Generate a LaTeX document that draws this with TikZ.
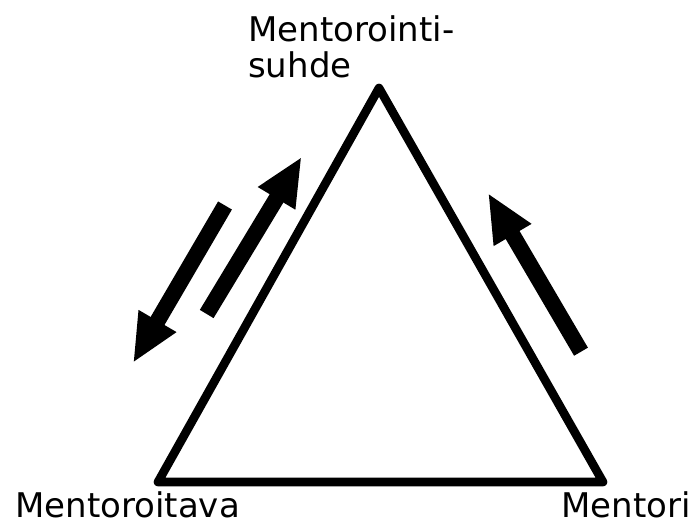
\documentclass[tikz,border=0pt]{standalone}
\usepackage{fontspec}
\setmainfont{DejaVu Sans}
\usetikzlibrary{arrows.meta}

\begin{document}
\begin{tikzpicture}[x=0.75pt, y=-0.75pt,
    edge/.style={line width=6.5pt, line join=round},
    bigarrow/.style={line width=12pt, -{Triangle[length=36.5pt, width=30pt]}},
    role/.style={inner sep=0pt, anchor=base west, align=left,
                 font=\fontsize{25.5}{27}\selectfont}]
  \useasboundingbox (0,0) rectangle (699,524);

  % Corners of the triangle
  \coordinate (top)   at (379,88);
  \coordinate (left)  at (158,482);
  \coordinate (right) at (603,482);
  \draw[edge] (top) -- (left) -- (right) -- cycle;

  % Role names
  \node[role] (relation) at (248,78)  {Mentorointi-\\suhde};
  \node[role] (mentee)   at (15,517)  {Mentoroitava};
  \node[role] (mentor)   at (561,517) {Mentori};

  % --- Arrows on the left side (both ways) ---
  \coordinate (downstart) at (225,205.5);
  \coordinate (downtip)   at (133,363);
  \draw[bigarrow] (downstart) -- (downtip);

  \coordinate (upstart) at (206.7,314);
  \coordinate (uptip)   at (301.7,156.7);
  \draw[bigarrow] (upstart) -- (uptip);

  % --- Arrow on the right side ---
  \coordinate (rightstart) at (581,351.7);
  \coordinate (righttip)   at (488,193);
  \draw[bigarrow] (rightstart) -- (righttip);

\end{tikzpicture}
\end{document}
